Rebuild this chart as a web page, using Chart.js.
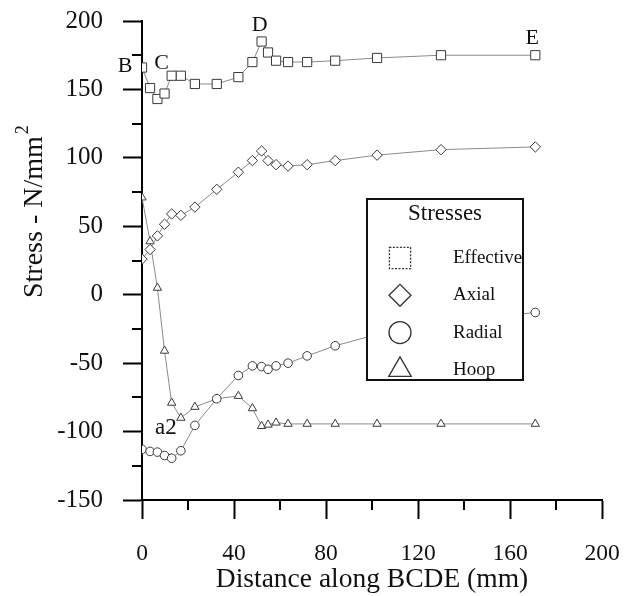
<!DOCTYPE html>
<html>
<head>
<meta charset="utf-8">
<script src="https://cdn.jsdelivr.net/npm/chart.js@4/dist/chart.umd.min.js"></script>
<style>
  html, body { margin: 0; padding: 0; background: #fff; }
  #wrap { width: 644px; height: 596px; }
</style>
</head>
<body>
<div id="wrap"><canvas id="stressChart" width="644" height="596"></canvas></div>
<script>
// distance along BCDE (mm), shared by all four series
const distance = [0, 3.5, 6.7, 9.8, 12.9, 16.9, 23, 32.5, 41.9, 48, 52, 54.8, 58.3, 63.5, 71.8, 84, 102.2, 130, 171];

const effective = [166, 151, 143, 147, 160, 160, 154, 154, 159, 170, 185, 177, 171, 170, 170, 171, 173, 175, 175];
const axial     = [26, 33, 43, 51.5, 59, 58, 64, 77, 89.5, 98, 105, 98, 95, 94, 95, 98, 102, 106, 108];
const radial    = [-113, -114.5, -115, -117.5, -119.5, -114, -95.5, -76, -59, -52, -52.5, -54.5, -52, -50, -44.7, -37.3, -29, -20, -13];
const hoop      = [71, 39, 5, -41, -79, -90, -82, -76, -74, -83, -96, -95, -93.5, -94.4, -94.4, -94.4, -94.4, -94.4, -94.4];

const seriesNames = ['Effective', 'Axial', 'Radial', 'Hoop'];
const seriesMarks = ['rect', 'rectRot', 'circle', 'triangle'];

const yTicksMajor = [-150, -100, -50, 0, 50, 100, 150, 200];
const yTicksMinor = [-125, -75, -25, 25, 75, 125, 175];
const xTicksMinor = [20, 60, 100, 140, 180];

// point labels: [text, series values, index, dx, dy]
const pointNotes = [
  ['B', effective, 0, -17, -1],
  ['C', effective, 3, -3, -30],
  ['D', effective, 10, -2, -16],
  ['E', effective, 18, -3, -17],
  ['a2', hoop, 5, -15, 10]
];

const SERIF = '"Liberation Serif", "Times New Roman", serif';

function pts(vals) {
  return distance.map((d, i) => ({ x: d, y: vals[i] }));
}

const markRadius = { rect: 6.5, rectRot: 5.2, circle: 4.3, triangle: 4.8 };

const datasets = [effective, axial, radial, hoop].map((vals, i) => ({
  label: seriesNames[i],
  data: pts(vals),
  showLine: true,
  borderColor: '#8a8a8a',
  borderWidth: 1,
  tension: 0,
  pointStyle: seriesMarks[i],
  pointRadius: markRadius[seriesMarks[i]],
  pointBorderColor: '#3a3a3a',
  pointBorderWidth: 1,
  pointBackgroundColor: '#fff',
  pointHoverRadius: markRadius[seriesMarks[i]]
}));

// minor ticks, y title, point notes and the boxed legend
const decorPlugin = {
  id: 'decor',
  afterDatasetsDraw(chart) {
    const ctx = chart.ctx;
    const xs = chart.scales.x, ys = chart.scales.y;
    const area = chart.chartArea;
    ctx.save();
    ctx.strokeStyle = '#000';
    ctx.lineWidth = 2;
    yTicksMinor.forEach(v => {
      const py = Math.round(ys.getPixelForValue(v));
      ctx.beginPath(); ctx.moveTo(area.left - 10, py); ctx.lineTo(area.left, py); ctx.stroke();
    });
    xTicksMinor.forEach(v => {
      const px = Math.round(xs.getPixelForValue(v));
      ctx.beginPath(); ctx.moveTo(px, area.bottom); ctx.lineTo(px, area.bottom + 10); ctx.stroke();
    });

    // y axis title with superscript
    ctx.save();
    ctx.translate(42, 298);
    ctx.rotate(-Math.PI / 2);
    ctx.fillStyle = '#111';
    ctx.textAlign = 'left';
    ctx.textBaseline = 'alphabetic';
    ctx.font = '28px ' + SERIF;
    const base = 'Stress - N/mm';
    ctx.fillText(base, 0, 0);
    const w = ctx.measureText(base).width;
    ctx.font = '18px ' + SERIF;
    ctx.fillText('2', w + 2, -14);
    ctx.restore();

    ctx.fillStyle = '#111';
    ctx.textAlign = 'center';
    ctx.textBaseline = 'middle';
    pointNotes.forEach(([txt, vals, idx, dx, dy]) => {
      ctx.font = (txt === 'a2' ? '23px ' : '22px ') + SERIF;
      const px = xs.getPixelForValue(distance[idx]);
      const py = ys.getPixelForValue(vals[idx]);
      ctx.fillText(txt, px + dx, py + dy);
    });

    // legend box
    const bx = 367, by = 199, bw = 156, bh = 181;
    ctx.fillStyle = '#fff';
    ctx.fillRect(bx, by, bw, bh);
    ctx.lineWidth = 2;
    ctx.strokeStyle = '#111';
    ctx.strokeRect(bx, by, bw, bh);
    ctx.fillStyle = '#111';
    ctx.font = '23px ' + SERIF;
    ctx.textAlign = 'center';
    ctx.fillText('Stresses', bx + 78, by + 15);
    ctx.font = '19px ' + SERIF;
    ctx.textAlign = 'left';
    const legRad = { rect: 15, rectRot: 11, circle: 11, triangle: 13 };
    seriesNames.forEach((name, i) => {
      const cy = 258 + i * 37.3;
      ctx.strokeStyle = '#333';
      ctx.lineWidth = 1.3;
      ctx.fillStyle = '#fff';
      if (seriesMarks[i] === 'rect') ctx.setLineDash([2, 1.5]);
      Chart.helpers.drawPoint(ctx, { pointStyle: seriesMarks[i], radius: legRad[seriesMarks[i]], rotation: 0, borderWidth: 1.3 }, 400, cy);
      ctx.setLineDash([]);
      ctx.fillStyle = '#111';
      ctx.fillText(name, 453, cy);
    });
    ctx.restore();
  }
};

new Chart(document.getElementById('stressChart'), {
  type: 'scatter',
  data: { datasets },
  options: {
    responsive: false,
    animation: false,
    layout: { padding: { left: 0, right: 42, top: 21, bottom: 0 } },
    plugins: { legend: { display: false }, tooltip: { enabled: false } },
    scales: {
      x: {
        type: 'linear', min: 0, max: 200,
        afterFit: s => { s.height = 96; s.paddingLeft = 0; s.paddingRight = 0; },
        ticks: { stepSize: 40, color: '#111', font: { family: SERIF, size: 23.5 }, padding: 21, maxRotation: 0 },
        grid: { drawOnChartArea: false, drawTicks: true, tickLength: 19, tickWidth: 2, tickColor: '#000' },
        border: { display: true, color: '#000', width: 2 },
        title: { display: true, text: 'Distance along BCDE (mm)', color: '#111', font: { family: SERIF, size: 27.5 }, padding: { top: 0, bottom: 0 } }
      },
      y: {
        type: 'linear', min: -150, max: 200,
        afterFit: s => { s.width = 142; s.paddingTop = 0; s.paddingBottom = 0; },
        afterBuildTicks: s => { s.ticks = yTicksMajor.map(v => ({ value: v })); },
        ticks: { color: '#111', font: { family: SERIF, size: 25 }, padding: 20 },
        grid: { drawOnChartArea: false, drawTicks: true, tickLength: 19, tickWidth: 2, tickColor: '#000' },
        border: { display: true, color: '#000', width: 2 }
      }
    }
  },
  plugins: [decorPlugin]
});
</script>
</body>
</html>
